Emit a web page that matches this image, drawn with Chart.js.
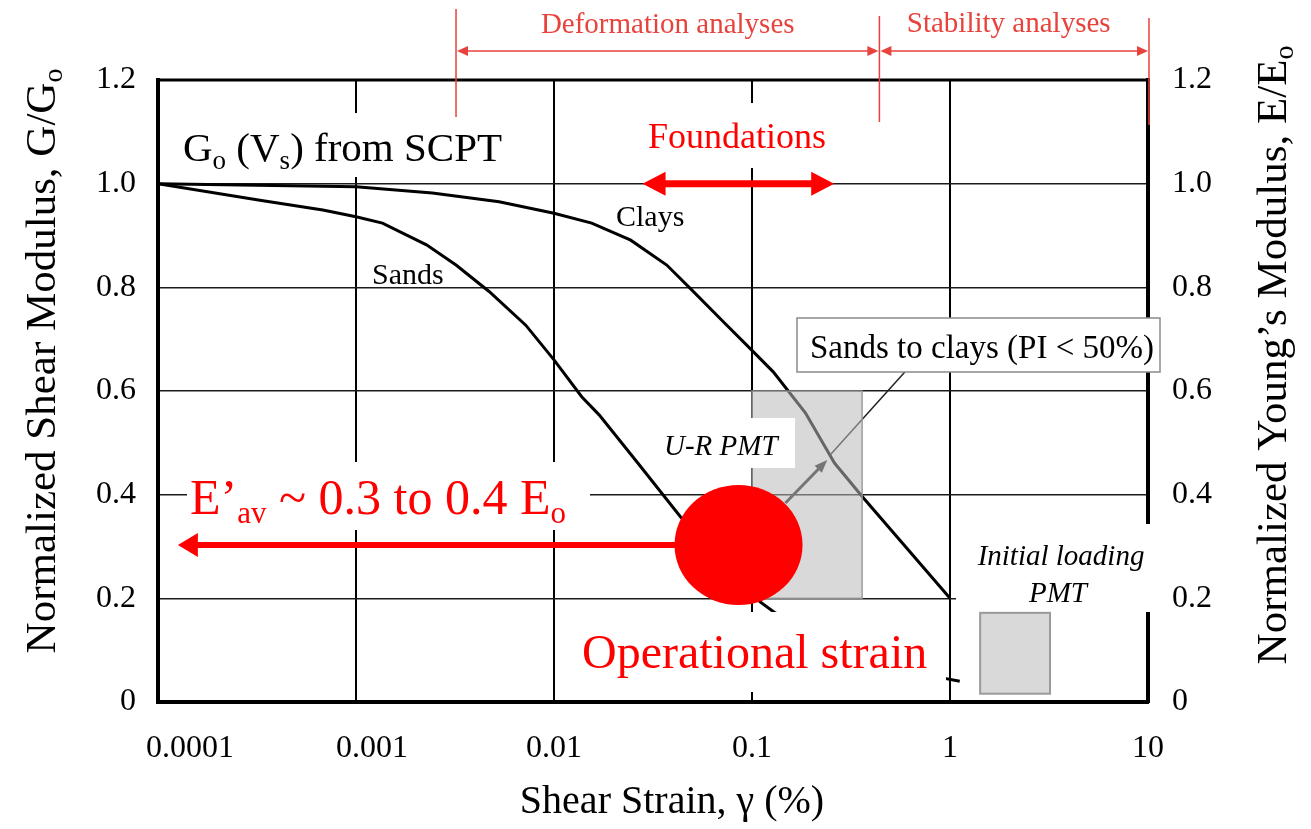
<!DOCTYPE html>
<html>
<head>
<meta charset="utf-8">
<script src="https://cdn.jsdelivr.net/npm/chart.js@4/dist/chart.umd.min.js"></script>
<style>
html,body{margin:0;padding:0;background:#fff;}
#wrap{width:1311px;height:829px;position:relative;background:#fff;}
canvas{display:block;}
</style>
</head>
<body>
<div id="wrap"><canvas id="c" width="1311" height="829"></canvas></div>
<script>
// ---------- DATA ----------
const X_TICKS = [0.0001, 0.001, 0.01, 0.1, 1, 10];
const X_TICK_LABELS = ['0.0001', '0.001', '0.01', '0.1', '1', '10'];
const Y_TICKS = [0, 0.2, 0.4, 0.6, 0.8, 1.0, 1.2];
const Y_TICK_LABELS = ['0', '0.2', '0.4', '0.6', '0.8', '1.0', '1.2'];

// Clays curve: shear strain (%) and G/Go
const CLAYS_STRAIN = [0.0001, 0.001, 0.00243, 0.00528, 0.01, 0.0155, 0.0244, 0.0371, 0.0496, 0.0702, 0.102, 0.128, 0.186, 0.261, 0.361, 1.0];
const CLAYS_G      = [1.0, 0.994, 0.982, 0.965, 0.943, 0.924, 0.891, 0.843, 0.795, 0.737, 0.675, 0.637, 0.558, 0.461, 0.396, 0.2];

// Sands curve
const SANDS_STRAIN = [0.0001, 0.000327, 0.00068, 0.001, 0.00136, 0.00227, 0.0032, 0.0047, 0.0072, 0.01, 0.0138, 0.0169, 0.0265, 0.0436, 0.11, 0.131, 0.3, 0.6, 0.9, 1.12];
const SANDS_G      = [1.0, 0.968, 0.949, 0.936, 0.924, 0.882, 0.843, 0.792, 0.727, 0.660, 0.589, 0.554, 0.461, 0.357, 0.193, 0.172, 0.10, 0.06, 0.047, 0.04];

// Test ranges (strain extent, G/Go extent)
const UR_PMT_STRAIN = [0.1, 0.36];
const UR_PMT_G      = [0.2, 0.6];
const IL_PMT_STRAIN = [1.42, 3.2];
const IL_PMT_G      = [0.016, 0.172];

// Operational strain point and E'av arrow
const OPERATIONAL_POINT = [0.0855, 0.303];
const EAV_ARROW_STRAIN  = [0.0855, 0.000126];

// Leader from point to "Sands to clays" box
const LEADER_STRAIN = [0.1475, 0.24, 0.248, 0.593];
const LEADER_G      = [0.384, 0.467, 0.4765, 0.637];

// Ranges of strain
const FOUNDATIONS_RANGE = [0.028, 0.26];
const DEFORMATION_RANGE = [0.0032, 0.44];
const STABILITY_RANGE   = [0.44, 10];

// ---------- HELPERS ----------
const FAM = '"Liberation Serif", "Times New Roman", serif';
function setFont(ctx, size, style) { ctx.font = (style ? style + ' ' : '') + size + 'px ' + FAM; }
function runsWidth(ctx, runs, style) {
  let w = 0;
  for (const r of runs) { setFont(ctx, r.s, style); w += ctx.measureText(r.t).width; }
  return w;
}
function drawRuns(ctx, runs, x, y, color, style) {
  let cx = x;
  ctx.fillStyle = color; ctx.textBaseline = 'alphabetic'; ctx.textAlign = 'left';
  for (const r of runs) {
    setFont(ctx, r.s, style);
    ctx.fillText(r.t, cx, y + (r.dy || 0));
    cx += ctx.measureText(r.t).width;
  }
}
function arrowHead(ctx, x, y, ang, len, half, color) {
  ctx.save(); ctx.translate(x, y); ctx.rotate(ang);
  ctx.beginPath(); ctx.moveTo(0, 0); ctx.lineTo(-len, -half); ctx.lineTo(-len, half); ctx.closePath();
  ctx.fillStyle = color; ctx.fill(); ctx.restore();
}
function seg(ctx, x1, y1, x2, y2, w, color) {
  ctx.beginPath(); ctx.moveTo(x1, y1); ctx.lineTo(x2, y2);
  ctx.lineWidth = w; ctx.strokeStyle = color; ctx.stroke();
}
function whiteRect(ctx, x1, y1, x2, y2) { ctx.fillStyle = '#fff'; ctx.fillRect(x1, y1, x2 - x1, y2 - y1); }

const RED = '#ff0000';
const TOPRED = '#e8423c';
// leading no-break spaces that nudge the first two x labels to the right, as in the original
const X_LABEL_NUDGE = ['\u00a0'.repeat(8), '\u00a0'.repeat(4), '', '', '', ''];

// ---------- OVERLAY PLUGIN ----------
const overlay = {
  id: 'overlay',
  afterDraw(chart) {
    const ctx = chart.ctx, a = chart.chartArea;
    const X = chart.scales.x, Y = chart.scales.y;
    const fx = v => X.getPixelForValue(v), fy = v => Y.getPixelForValue(v);
    ctx.save();
    ctx.lineCap = 'butt';

    // top border
    seg(ctx, a.left - 2, a.top, a.right + 2, a.top, 3, '#000');

    // leader (drawn before the translucent box so it appears grey inside)
    seg(ctx, fx(LEADER_STRAIN[2]), fy(LEADER_G[2]), fx(LEADER_STRAIN[3]), fy(LEADER_G[3]), 1.5, '#222');
    {
      const x1 = fx(LEADER_STRAIN[0]), y1 = fy(LEADER_G[0]), x2 = fx(LEADER_STRAIN[1]), y2 = fy(LEADER_G[1]);
      const ang = Math.atan2(y2 - y1, x2 - x1);
      seg(ctx, x1, y1, x2 - 8 * Math.cos(ang), y2 - 8 * Math.sin(ang), 3, '#222');
      arrowHead(ctx, x2, y2, ang, 13, 5, '#222');
    }

    // U-R PMT translucent box
    {
      const x1 = fx(UR_PMT_STRAIN[0]), x2 = fx(UR_PMT_STRAIN[1]);
      const y1 = fy(UR_PMT_G[1]), y2 = fy(UR_PMT_G[0]);
      ctx.fillStyle = 'rgba(186,186,186,0.55)';
      ctx.fillRect(x1, y1, x2 - x1, y2 - y1);
      ctx.strokeStyle = 'rgba(150,150,150,0.9)'; ctx.lineWidth = 1.5;
      ctx.strokeRect(x1, y1, x2 - x1, y2 - y1);
    }

    // red arrow to the left (E'av)
    {
      const yA = fy(OPERATIONAL_POINT[1]);
      const xs = fx(EAV_ARROW_STRAIN[0]), xt = fx(EAV_ARROW_STRAIN[1]);
      seg(ctx, xt + 18, yA, xs, yA, 6, RED);
      arrowHead(ctx, xt, yA, Math.PI, 20, 12, RED);
    }
    // operational strain point
    ctx.beginPath();
    ctx.ellipse(fx(OPERATIONAL_POINT[0]), fy(OPERATIONAL_POINT[1]), 64, 60, 0, 0, Math.PI * 2);
    ctx.fillStyle = RED; ctx.fill();

    // U-R PMT label
    whiteRect(ctx, 650, 418, 795, 468);
    setFont(ctx, 29, 'italic'); ctx.fillStyle = '#000'; ctx.textAlign = 'left'; ctx.textBaseline = 'alphabetic';
    ctx.fillText('U-R PMT', 664, 455);

    // E'av label
    whiteRect(ctx, 187, 462, 590, 530);
    drawRuns(ctx, [{t: 'E\u2019', s: 50}, {t: 'av', s: 31, dy: 9}, {t: ' ~ 0.3 to 0.4 E', s: 50}, {t: 'o', s: 31, dy: 9}], 190, 514, RED);

    // Operational strain label
    whiteRect(ctx, 570, 612, 946, 692);
    drawRuns(ctx, [{t: 'Operational strain', s: 48}], 582, 668, RED);

    // Initial loading PMT
    whiteRect(ctx, 956, 524, 1158, 612);
    setFont(ctx, 29, 'italic'); ctx.fillStyle = '#000'; ctx.textAlign = 'center';
    ctx.fillText('Initial loading', 1061, 565);
    ctx.fillText('PMT', 1058, 602);
    {
      const x1 = fx(IL_PMT_STRAIN[0]), x2 = fx(IL_PMT_STRAIN[1]);
      const y1 = fy(IL_PMT_G[1]), y2 = fy(IL_PMT_G[0]);
      ctx.fillStyle = '#d9d9d9'; ctx.fillRect(x1, y1, x2 - x1, y2 - y1);
      ctx.strokeStyle = '#9a9a9a'; ctx.lineWidth = 2; ctx.strokeRect(x1, y1, x2 - x1, y2 - y1);
    }

    // Sands to clays box
    ctx.fillStyle = '#fff'; ctx.fillRect(797, 318, 363, 54);
    ctx.strokeStyle = '#8a8a8a'; ctx.lineWidth = 1.5; ctx.strokeRect(797, 318, 363, 54);
    drawRuns(ctx, [{t: 'Sands to clays (PI < 50%)', s: 33}], 810, 358, '#000');

    // Go (Vs) from SCPT
    whiteRect(ctx, 175, 113, 508, 177);
    drawRuns(ctx, [{t: 'G', s: 41}, {t: 'o', s: 27, dy: 8}, {t: ' (V', s: 41}, {t: 's', s: 27, dy: 8}, {t: ') from SCPT', s: 41}], 183, 161, '#000');

    // curve labels
    drawRuns(ctx, [{t: 'Clays', s: 30}], 616, 226, '#000');
    drawRuns(ctx, [{t: 'Sands', s: 30}], 372, 284, '#000');

    // Foundations
    whiteRect(ctx, 640, 103, 840, 168);
    drawRuns(ctx, [{t: 'Foundations', s: 36}], 648, 148, RED);
    {
      const yF = fy(1.0), x1 = fx(FOUNDATIONS_RANGE[0]), x2 = fx(FOUNDATIONS_RANGE[1]);
      seg(ctx, x1 + 20, yF, x2 - 20, yF, 7, RED);
      arrowHead(ctx, x1, yF, Math.PI, 23, 12, RED);
      arrowHead(ctx, x2, yF, 0, 23, 12, RED);
    }

    // top range annotations
    {
      const yL = 51;
      const d1 = fx(DEFORMATION_RANGE[0]), d2 = fx(DEFORMATION_RANGE[1]);
      const s1 = fx(STABILITY_RANGE[0]), s2 = fx(STABILITY_RANGE[1]);
      seg(ctx, d1, 9, d1, 117, 1.5, TOPRED);
      seg(ctx, d2, 16, d2, 122, 1.5, TOPRED);
      seg(ctx, s2 + 1, 18, s2 + 1, 125, 1.5, TOPRED);
      seg(ctx, d1 + 8, yL, d2 - 8, yL, 1.5, TOPRED);
      seg(ctx, s1 + 8, yL, s2 - 8, yL, 1.5, TOPRED);
      arrowHead(ctx, d1 + 1, yL, Math.PI, 11, 5, TOPRED);
      arrowHead(ctx, d2 - 1, yL, 0, 11, 5, TOPRED);
      arrowHead(ctx, s1 + 1, yL, Math.PI, 11, 5, TOPRED);
      arrowHead(ctx, s2, yL, 0, 11, 5, TOPRED);
      setFont(ctx, 29); ctx.fillStyle = TOPRED; ctx.textAlign = 'center'; ctx.textBaseline = 'alphabetic';
      ctx.fillText('Deformation analyses', (d1 + d2) / 2 + 0, 33);
      ctx.fillText('Stability analyses', (s1 + s2) / 2 - 5, 32);
    }

    // axis titles
    {
      const runsL = [{t: 'Normalized Shear Modulus, G/G', s: 43}, {t: 'o', s: 28, dy: 7}];
      const wL = runsWidth(ctx, runsL);
      ctx.save(); ctx.translate(55, 361 + wL / 2); ctx.rotate(-Math.PI / 2);
      drawRuns(ctx, runsL, 0, 0, '#000'); ctx.restore();

      const runsR = [{t: 'Normalized Young\u2019s Modulus, E/E', s: 43}, {t: 'o', s: 28, dy: 7}];
      const wR = runsWidth(ctx, runsR);
      ctx.save(); ctx.translate(1286, 355 + wR / 2); ctx.rotate(-Math.PI / 2);
      drawRuns(ctx, runsR, 0, 0, '#000'); ctx.restore();

      setFont(ctx, 40); ctx.fillStyle = '#000'; ctx.textAlign = 'center'; ctx.textBaseline = 'alphabetic';
      ctx.fillText('Shear Strain, \u03b3 (%)', 672, 813);
    }
    ctx.restore();
  }
};

Chart.defaults.font.family = FAM;
Chart.defaults.color = '#000';

const yTickCfg = (pad) => ({
  font: {family: FAM, size: 32}, color: '#000', padding: pad, autoSkip: false,
  callback: (v, i) => Y_TICK_LABELS[i]
});

new Chart(document.getElementById('c').getContext('2d'), {
  type: 'line',
  data: {
    datasets: [
      {label: 'Clays', data: CLAYS_STRAIN.map((x, i) => ({x, y: CLAYS_G[i]})), borderColor: '#000', borderWidth: 3, pointRadius: 0, tension: 0, fill: false},
      {label: 'Sands', data: SANDS_STRAIN.map((x, i) => ({x, y: SANDS_G[i]})), borderColor: '#000', borderWidth: 3, pointRadius: 0, tension: 0, fill: false}
    ]
  },
  options: {
    responsive: false, animation: false, devicePixelRatio: 1,
    layout: {padding: {top: 80, left: 0, right: 0, bottom: 0}},
    plugins: {legend: {display: false}, tooltip: {enabled: false}},
    scales: {
      x: {
        type: 'logarithmic', position: 'bottom', min: 0.0001, max: 10,
        afterBuildTicks: s => { s.ticks = X_TICKS.map(v => ({value: v})); },
        afterFit: s => { s.height = 127; },
        ticks: {font: {family: FAM, size: 32}, color: '#000', padding: 27, autoSkip: false, maxRotation: 0, minRotation: 0,
                callback: (v, i) => X_LABEL_NUDGE[i] + X_TICK_LABELS[i]},
        grid: {color: '#000', lineWidth: 2, drawTicks: false},
        border: {display: true, color: '#000', width: 4}
      },
      y: {
        type: 'linear', position: 'left', min: 0, max: 1.2,
        afterBuildTicks: s => { s.ticks = Y_TICKS.map(v => ({value: v})); },
        afterFit: s => { s.width = 158; },
        ticks: yTickCfg(22),
        grid: {color: '#1a1a1a', lineWidth: 1.5, drawTicks: false},
        border: {display: true, color: '#000', width: 4}
      },
      y2: {
        type: 'linear', position: 'right', min: 0, max: 1.2,
        afterBuildTicks: s => { s.ticks = Y_TICKS.map(v => ({value: v})); },
        afterFit: s => { s.width = 163; },
        ticks: yTickCfg(24),
        grid: {drawOnChartArea: false, drawTicks: false},
        border: {display: true, color: '#000', width: 4}
      }
    }
  },
  plugins: [overlay]
});
</script>
</body>
</html>
